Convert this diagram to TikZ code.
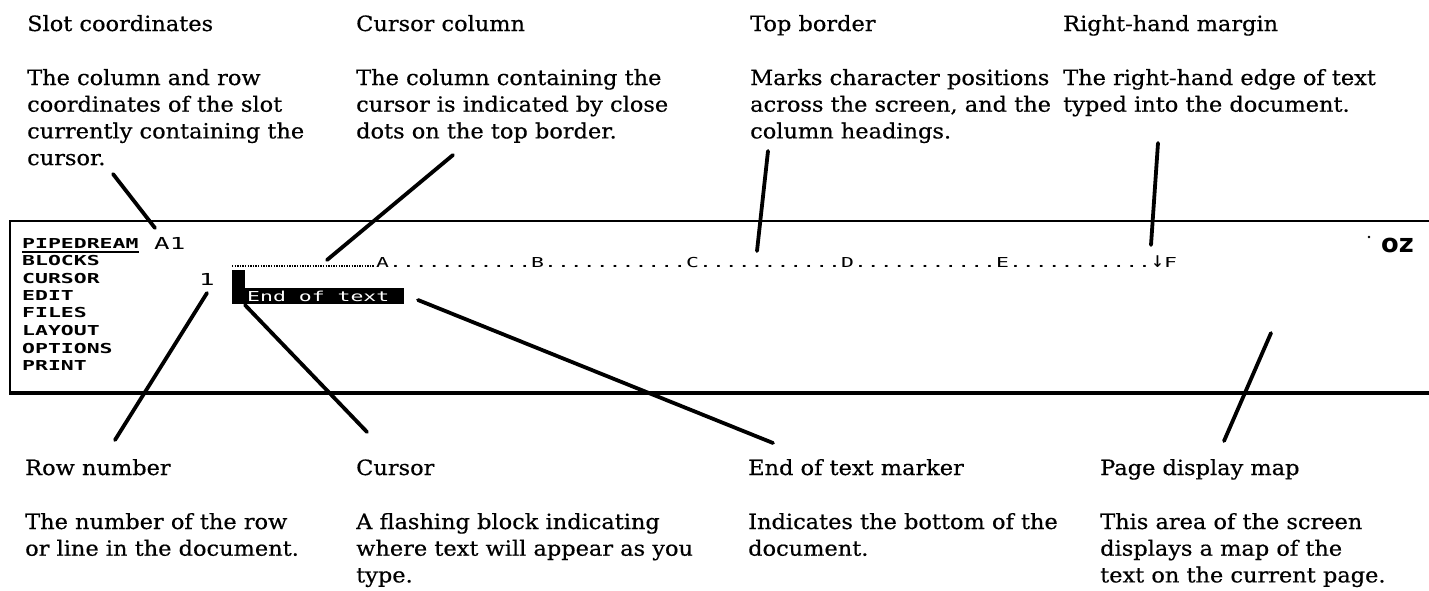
\documentclass[tikz,border=0pt]{standalone}
\usepackage{fontspec}
\setmainfont[FakeStretch=1.07,FakeBold=0.5]{DejaVu Serif}
\newfontfamily\scrfont[FakeStretch=1.566]{DejaVu Sans Mono}
\newfontfamily\ozfont{DejaVu Sans}
\newcommand\lbl[1]{\vtop{\fontsize{21}{26.7}\selectfont\def\\{\egroup\hbox\bgroup}\hbox\bgroup#1\egroup}}
\newcommand\dnarrow{\raisebox{0pt}[0pt][0pt]{\scalebox{1}[1.6]{↓}}}
\tikzset{
  lab/.style={anchor=base west, inner sep=0pt, font=\fontsize{21}{26.7}\selectfont},
  scr/.style={anchor=base west, inner sep=0pt, font=\scrfont\fontsize{13.7}{17.5}\selectfont},
  scrb/.style={scr, font=\scrfont\bfseries\fontsize{13.7}{17.5}\selectfont},
  conn/.style={line width=3.8pt, line cap=round},
  frame/.style={line cap=butt},
}
\begin{document}
\begin{tikzpicture}[x=1pt,y=-1pt]
\useasboundingbox (0,0) rectangle (1429,590);
\fill[white] (0,0) rectangle (1429,590);

% labels top
\node[lab] (h1) at (27,31) {Slot coordinates};
\node[lab] (d1) at (27,85) {\lbl{The column and row\\coordinates of the slot\\currently containing the\\cursor.}};
\node[lab] (h2) at (356,31) {Cursor column};
\node[lab] (d2) at (356,85) {\lbl{The column containing the\\cursor is indicated by close\\dots on the top border.}};
\node[lab] (h3) at (750,31) {Top border};
\node[lab] (d3) at (750,85) {\lbl{Marks character positions\\across the screen, and the\\column headings.}};
\node[lab] (h4) at (1063,31) {Right-hand margin};
\node[lab] (d4) at (1063,85) {\lbl{The right-hand edge of text\\typed into the document.}};

% labels bottom
\node[lab] (h5) at (25,475) {Row number};
\node[lab] (d5) at (25,529) {\lbl{The number of the row\\or line in the document.}};
\node[lab] (h6) at (356,475) {Cursor};
\node[lab] (d6) at (356,529) {\lbl{A flashing block indicating\\where text will appear as you\\type.}};
\node[lab] (h7) at (748,475) {End of text marker};
\node[lab] (d7) at (748,529) {\lbl{Indicates the bottom of the\\document.}};
\node[lab] (h8) at (1100,475) {Page display map};
\node[lab] (d8) at (1100,529) {\lbl{This area of the screen\\displays a map of the\\text on the current page.}};

% screen frame
\draw[frame, line width=2.2pt] (10,221) -- (1429,221);
\draw[frame, line width=2.8pt] (10,220) -- (10,394);
\draw[frame, line width=3.8pt] (9,393) -- (1429,393);

% menu
\node[scrb] (m1) at (22,248) {PIPEDREAM};
\draw[line width=1.6pt] ([yshift=-4pt]m1.base west) -- ([yshift=-4pt]m1.base east);
\node[scrb] (m2) at (22,265) {BLOCKS};
\node[scrb] (m3) at (22,283) {CURSOR};
\node[scrb] (m4) at (22,300) {EDIT};
\node[scrb] (m5) at (22,317) {FILES};
\node[scrb] (m6) at (22,335) {LAYOUT};
\node[scrb] (m7) at (22,353) {OPTIONS};
\node[scrb] (m8) at (22,370) {PRINT};
\node[scr, font=\scrfont\fontsize{16.5}{18}\selectfont] (a1) at (154,249) {A1};

% top border
\coordinate (cd0) at (232,266);
\coordinate (cd1) at (374,266);
\draw[line width=1.6pt, dash pattern=on 1.3pt off 1.3pt] (cd0) -- (cd1);
\node[scr] (tb) at (376,267) {A...........B...........C...........D...........E...........\dnarrow F};

% row number, cursor, end of text
\node[scr, font=\scrfont\fontsize{16.5}{18}\selectfont, anchor=base east] (rn) at (215,285) {1};
\fill (232,288) rectangle (404,304);
\fill (232,270) rectangle (245,304);
\node[scr, text=white] (eot) at (247,301) {End of text};

% oz
\node[anchor=base west, inner sep=0pt, font=\ozfont\bfseries\fontsize{25.7}{30}\selectfont] (oz) at (1381,252) {oz};
\fill (1369,237) circle (1.3);

% connector end points
\coordinate (c1a) at (113,174); \coordinate (c1b) at (155,228);
\coordinate (c2a) at (453,155); \coordinate (c2b) at (327,260);
\coordinate (c3a) at (768,151); \coordinate (c3b) at (757,251);
\coordinate (c4a) at (1158,143); \coordinate (c4b) at (1151,245);
\coordinate (c5a) at (207,293); \coordinate (c5b) at (115,440);
\coordinate (c6a) at (245,305); \coordinate (c6b) at (367,432);
\coordinate (c7a) at (418,300); \coordinate (c7b) at (773,443);
\coordinate (c8a) at (1271,333); \coordinate (c8b) at (1224,441);

\draw[conn] (c1a) -- (c1b);
\draw[conn] (c2a) -- (c2b);
\draw[conn] (c3a) -- (c3b);
\draw[conn] (c4a) -- (c4b);
\draw[conn] (c5a) -- (c5b);
\draw[conn] (c6a) -- (c6b);
\draw[conn] (c7a) -- (c7b);
\draw[conn] (c8a) -- (c8b);
\end{tikzpicture}
\end{document}
